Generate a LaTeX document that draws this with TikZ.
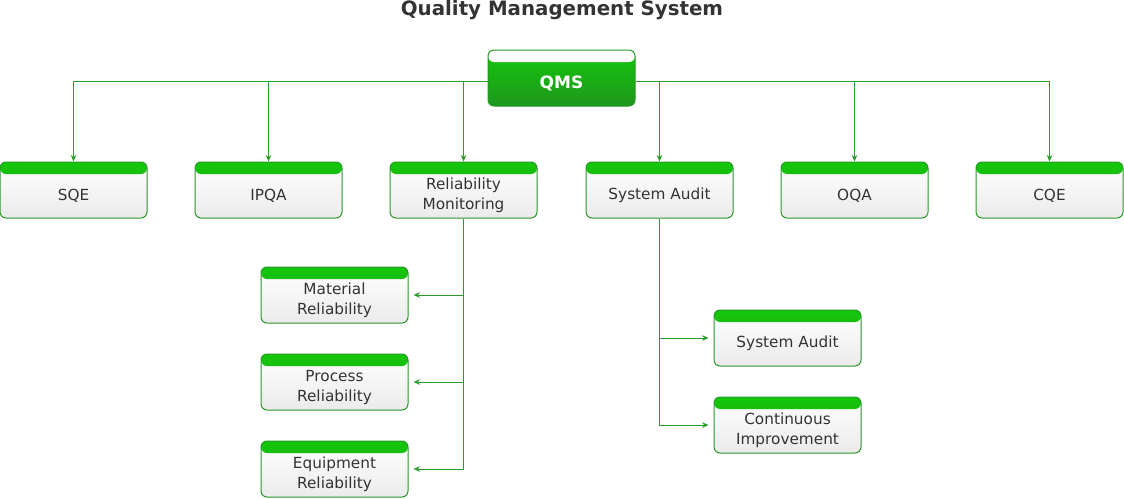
\documentclass[tikz,border=0pt]{standalone}
\usepackage{fontspec}
\setmainfont{DejaVu Sans}
\usetikzlibrary{arrows.meta,calc}
\definecolor{lnc}{RGB}{40,155,40}
\definecolor{bdc}{RGB}{40,150,40}
\definecolor{hdtop}{RGB}{20,200,10}
\definecolor{hdbot}{RGB}{30,150,30}
\definecolor{txc}{RGB}{51,51,51}
\tikzset{
  x=1pt,y=1pt,
  box/.style={draw=bdc,line width=1pt,rounded corners=6pt,minimum width=147pt,minimum height=56pt,inner sep=0pt,
    top color=white,bottom color=black!8,
    path picture={\shade[top color=hdtop,bottom color=hdbot] (path picture bounding box.north west) rectangle ([yshift=-12pt]path picture bounding box.north east);}},
  qbox/.style={draw=bdc,line width=1pt,rounded corners=6pt,minimum width=147pt,minimum height=56pt,inner sep=0pt,
    top color=hdtop,bottom color=hdbot,
    path picture={\shade[top color=white,bottom color=black!10] (path picture bounding box.north west) rectangle ([yshift=-12pt]path picture bounding box.north east);}},
  btext/.style={text=txc,font=\fontsize{15.3}{20}\selectfont,align=center,inner sep=0pt},
  arr/.style={draw=lnc,line width=0.9pt,-{Stealth[length=6.5pt,width=5.5pt]}},
  ln/.style={draw=lnc,line width=0.9pt}
}
\begin{document}
\begin{tikzpicture}
\useasboundingbox (0,0) rectangle (1124,-498);
\node[text=txc,font=\bfseries\fontsize{19.8}{24}\selectfont] (title) at (562,-10) {Quality Management System};
\node[qbox] (qms) at (561.5,-78) {};
\node[text=white,font=\bfseries\fontsize{17}{20}\selectfont,inner sep=0pt] (qmst) at ([yshift=-5pt]qms.center) {QMS};
% level 1
\foreach \n/\x/\t in {sqe/73.5/SQE, ipqa/268.5/IPQA, rm/463.5/{Reliability\\Monitoring}, sa/659.5/System Audit, oqa/854.5/OQA, cqe/1049.5/CQE}{
  \node[box] (\n) at (\x,-190) {};
  \node[btext] (\n-t) at ([yshift=-5.5pt]\n.center) {\t};
}
% sub left
\foreach \n/\y/\t in {mr/-295/{Material\\Reliability}, pr/-382/{Process\\Reliability}, er/-469/{Equipment\\Reliability}}{
  \node[box] (\n) at (334.5,\y) {};
  \node[btext] (\n-t) at ([yshift=-5.5pt]\n.center) {\t};
}
% sub right
\foreach \n/\y/\t in {ssa/-338/System Audit, ci/-425/{Continuous\\Improvement}}{
  \node[box] (\n) at (787.5,\y) {};
  \node[btext] (\n-t) at ([yshift=-5.5pt]\n.center) {\t};
}
% connectors from QMS
\foreach \n in {sqe,ipqa,rm}{
  \draw[arr] ([yshift=-3pt]qms.west) -| (\n.north);
}
\foreach \n in {sa,oqa,cqe}{
  \draw[arr] ([yshift=-3pt]qms.east) -| (\n.north);
}
% sub connectors
\foreach \n in {mr,pr,er}{
  \draw[arr,shorten >=5pt] (rm.south) |- (\n.east);
}
\foreach \n in {ssa,ci}{
  \draw[arr,shorten >=5pt] (sa.south) |- (\n.west);
}
\end{tikzpicture}
\end{document}
